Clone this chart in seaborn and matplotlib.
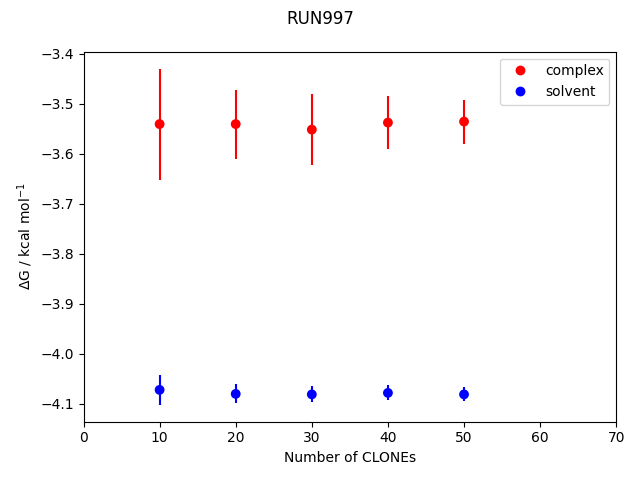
import matplotlib
matplotlib.use("Agg")
import matplotlib.pyplot as plt
import seaborn as sns
import pandas as pd

clones = [10, 20, 30, 40, 50]
complex_dg = [-3.541, -3.541, -3.552, -3.538, -3.536]
complex_err = [0.111, 0.069, 0.071, 0.053, 0.044]
solvent_dg = [-4.072, -4.080, -4.081, -4.078, -4.081]
solvent_err = [0.030, 0.019, 0.016, 0.015, 0.014]

df = pd.DataFrame({
    "clones": clones * 2,
    "dg": complex_dg + solvent_dg,
    "leg": ["complex"] * 5 + ["solvent"] * 5,
})

fig, ax = plt.subplots(figsize=(6.4, 4.8), dpi=100)
ax.errorbar(clones, complex_dg, yerr=complex_err, fmt="none", ecolor="red", elinewidth=1.5)
ax.errorbar(clones, solvent_dg, yerr=solvent_err, fmt="none", ecolor="blue", elinewidth=1.5)
sns.scatterplot(data=df, x="clones", y="dg", hue="leg", palette={"complex": "red", "solvent": "blue"},
                s=50, edgecolor=None, linewidth=0, ax=ax, zorder=3)
ax.legend(loc="upper right")
ax.set_xlim(0, 70)
ax.set_xlabel("Number of CLONEs")
ax.set_ylabel("ΔG / kcal mol$^{-1}$")
fig.suptitle("RUN997")
fig.tight_layout()
fig.savefig("out.png", dpi=100)
